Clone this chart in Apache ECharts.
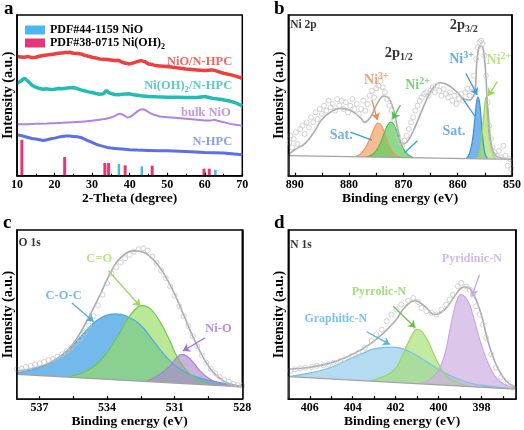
<!DOCTYPE html>
<html><head><meta charset="utf-8">
<script src="https://cdn.jsdelivr.net/npm/echarts@6/dist/echarts.min.js"></script>
<style>html,body{margin:0;padding:0;background:#fff}#c{width:524px;height:430px}</style>
</head><body><div id="c"></div><script>
const FONT = 'Liberation Serif';

// ---------- Panel a: XRD ----------
const xrdNiONHPC = [[10,358],[11,357],[12,356],[13,358],[14,355],[15,356],[16,359],[17,361],[18,363],[19,364],[20,366],[21,368],[22,369],[23,370],[24,371],[25,368],[26,367],[27,366],[28,362],[29,359],[30,356],[31,354],[32,351],[33,350],[34,349],[35,348],[36,346],[37,347],[38,341],[39,338],[40,336],[41,339],[42,343],[43,346],[44,343],[45,336],[46,334],[47,331],[48,330],[50,328],[52,325],[55,321],[58,318],[60,316],[62,318],[63,315],[65,308],[67,303],[68,300],[70,293]];
const xrdNiOH2NHPC = [[10,278],[10.5,282],[11,284],[11.5,290],[12,293],[12.5,289],[13,283],[14,272],[15,266],[16,262],[17,260],[18,261],[19,259],[20,260],[21,262],[22,261],[23,263],[24,264],[25,265],[26,262],[27,258],[28,255],[29,252],[30,250],[31,247],[32,245],[33,246],[33.8,256],[34.5,249],[35,245],[36,244],[37,243],[38,245],[40,246],[41,243],[43,240],[45,238],[47,237],[50,236],[53,236],[55,235],[58,235],[60,238],[62,233],[64,230],[66,226],[68,220],[70,210]];
const xrdBulkNiO = [[10,155],[12,155],[15,156],[18,157],[20,158],[22,159],[25,161],[28,163],[30,165],[32,168],[33,170],[34,172],[35,175],[36,179],[36.5,183],[37.5,186],[38.5,181],[39.5,175],[40.5,179],[41.5,188],[42.5,196],[43.5,200],[44.5,195],[45.5,188],[46.5,183],[48,178],[50,176],[52,174],[55,171],[58,168],[60,166],[61.5,166],[62.5,168],[63.5,165],[65,161],[67,155],[69,152],[70,150]];
const xrdNHPC = [[10,123],[11,121],[12,118],[13,115],[14,112],[15,110],[16,108],[17,106],[18,108],[19,111],[20,113],[21,116],[22,118],[23,119],[24,119],[25,118],[26,117],[27,115],[28,110],[29,105],[30,100],[31,95],[32,91],[33,88],[34,85],[35,83],[36,82],[38,80],[40,78],[42,77],[45,76],[48,75],[50,75],[55,73],[60,70],[65,68],[70,63]];
const pdfNiO = [[37.2,35],[43.3,28],[62.9,18]];
const pdfNiOH2 = [[11.3,108],[22.7,56],[33.4,38],[34.4,38],[38.8,31],[46.0,30],[59.8,21],[61.2,21]];

// ---------- Panel b: Ni 2p ----------
const niBaseline = [[891.2,60],[850,49]];
const niEnvelope = [[891.2,62],[890,78],[888.1,97],[886.5,130],[885.1,167],[883.3,192],[881.5,202],[879.6,195],[877.8,172],[877.2,160],[876.0,177],[874.8,217],[873.6,239],[872.7,232],[871.8,197],[870.9,130],[870.2,95],[869.3,102],[868.1,137],[866.3,207],[864.8,257],[863.3,279],[861.8,272],[860.2,252],[858.7,229],[857.7,227],[857.2,236],[856.8,250],[856.5,337],[856.2,377],[855.9,389],[855.5,388],[855.2,370],[854.8,297],[854.4,167],[853.9,97],[853.0,60],[851.8,52],[850,49]];
const niCircles = [[891.0,100],[890.8,120],[890.5,85],[890.2,110],[889.8,130],[889.5,95],[889.0,140],[888.6,150],[888.2,125],[887.8,160],[887.4,145],[887.0,175],[886.6,160],[886.2,190],[885.8,170],[885.4,200],[885.0,185],[884.6,210],[884.2,195],[883.8,225],[883.4,205],[883.0,215],[882.6,195],[882.2,230],[881.8,210],[881.4,225],[881.0,200],[880.6,220],[880.2,190],[879.8,210],[879.4,230],[879.0,200],[878.6,215],[878.2,185],[877.8,200],[877.4,225],[877.0,195],[876.6,215],[876.2,240],[875.8,255],[875.4,235],[875.0,262],[874.6,270],[874.2,285],[873.8,265],[873.4,250],[873.0,230],[872.6,210],[872.2,195],[871.8,170],[871.4,140],[871.0,120],[870.6,100],[870.2,90],[869.8,105],[869.4,120],[869.0,140],[868.6,160],[868.2,175],[867.8,195],[867.4,210],[867.0,225],[866.6,235],[866.2,245],[865.8,250],[865.4,240],[865.0,255],[864.6,265],[864.2,250],[863.8,270],[863.4,255],[863.0,240],[862.6,260],[862.2,245],[861.8,235],[861.4,250],[861.0,225],[860.6,240],[860.2,215],[859.8,230],[859.4,245],[859.0,225],[858.6,250],[858.2,260],[857.8,240],[857.4,265],[857.0,300],[856.6,350],[856.3,385],[856.0,400],[855.7,405],[855.4,395],[855.1,360],[854.8,300],[854.5,220],[854.2,150],[853.9,110],[853.6,85],[853.2,70],[852.8,60],[852.4,75],[852.0,55],[851.6,90],[851.2,60],[850.8,30],[850.4,50],[850.1,20]];
const niNi3p12 = [[879.0,56],[878.0,64],[877.0,84],[876.0,117],[875.3,145],[874.7,158],[874.0,150],[873.3,120],[872.5,86],[871.5,63],[870.5,56]];
const niNi2p12 = [[876.8,56],[875.5,66],[874.5,88],[873.6,125],[872.9,152],[872.3,161],[871.7,152],[871.0,122],[870.2,88],[869.3,65],[868.3,55]];
const niNi3p32 = [[858.4,51],[857.8,68],[857.3,105],[856.9,160],[856.6,210],[856.3,236],[856.0,222],[855.7,175],[855.4,115],[855.0,68],[854.5,51]];
const niNi2p32 = [[856.4,51],[856.0,65],[855.6,110],[855.3,165],[855.0,215],[854.8,235],[854.5,215],[854.2,160],[853.9,105],[853.5,65],[853.0,50]];
const niTicks = [850,855,860,865,870,875,880,885,890];
const niTickLabels = [850,860,870,880,890];

// ---------- Panel c: O 1s ----------
const oBaseline = [[538,75],[528,37]];
const oEnvelope = [[538,85],[537.26,93],[536.52,110],[535.78,145],[535.19,200],[534.75,255],[534.31,315],[533.86,380],[533.42,425],[532.83,447],[532.39,443],[531.94,420],[531.5,380],[531.06,325],[530.61,255],[530.17,185],[529.73,125],[529.28,80],[528.84,55],[528.4,43],[528,37]];
const oCOC = [[538,80],[537.26,90],[536.52,110],[535.78,145],[535.05,197],[534.46,237],[533.64,257],[533.13,250],[532.54,225],[531.94,175],[531.35,125],[530.76,90],[530.17,70],[529.58,58],[528.99,50],[528.4,43],[528,38]];
const oCO = [[535.78,67],[535.05,80],[534.31,115],[533.57,185],[533.13,237],[532.83,265],[532.46,282],[532.09,273],[531.65,233],[531.21,175],[530.91,130],[530.47,85],[530.02,60],[529.58,48],[529.14,42]];
const oNiO = [[532.24,54],[531.65,75],[531.21,100],[530.91,125],[530.69,135],[530.47,130],[530.17,110],[529.88,85],[529.43,60],[528.99,47],[528.4,40],[528,37]];
const oCircles = [[538.0,90],[537.8,92],[537.6,97],[537.4,100],[537.2,104],[537.0,108],[536.8,112],[536.6,118],[536.4,121],[536.2,128],[536.0,135],[535.8,145],[535.6,155],[535.4,170],[535.2,182],[535.0,200],[534.8,222],[534.6,250],[534.4,282],[534.2,315],[534.0,350],[533.8,378],[533.6,398],[533.4,412],[533.2,425],[533.0,435],[532.8,445],[532.6,452],[532.4,455],[532.2,448],[532.0,430],[531.8,410],[531.6,388],[531.4,365],[531.2,340],[531.0,312],[530.8,280],[530.6,250],[530.4,220],[530.2,190],[530.0,160],[529.8,132],[529.6,110],[529.4,92],[529.2,78],[529.0,66],[528.8,58],[528.6,52],[528.4,46],[528.2,42],[528.0,40]];
const oTicks = [529.5,531,532.5,534,535.5,537];
const oTickLabels = [528,531,534,537];

// ---------- Panel d: N 1s ----------
const nBaseline = [[407,68],[396.4,30]];
const nEnvelope = [[407,90],[405.9,97],[405.13,107],[404.35,125],[403.58,150],[402.81,185],[402.03,235],[401.57,277],[401.11,297],[400.64,280],[400.18,255],[399.71,270],[399.25,310],[398.94,335],[398.71,338],[398.4,320],[398.01,255],[397.7,175],[397.39,115],[397.08,75],[396.78,50],[396.4,35]];
const nGraphitic = [[407,68],[405.9,80],[405.13,93],[404.35,115],[403.58,137],[402.96,152],[402.27,157],[401.73,153],[401.11,135],[400.49,110],[399.87,85],[399.25,65],[398.63,50],[398.01,42],[397.39,37],[396.4,30]];
const nPyrrolic = [[403.12,55],[402.5,70],[402.03,90],[401.73,125],[401.42,170],[401.18,200],[401.03,210],[400.8,205],[400.49,175],[400.18,130],[399.87,90],[399.56,65],[399.1,50],[398.63,40]];
const nPyridinic = [[400.95,47],[400.49,55],[400.02,85],[399.71,135],[399.48,205],[399.25,275],[399.1,305],[398.97,315],[398.79,310],[398.55,285],[398.32,235],[398.01,165],[397.7,110],[397.39,70],[397.08,50],[396.78,40],[396.4,32]];
const nCircles = [[406.91,85],[406.68,90],[406.44,93],[406.21,95],[405.9,97],[405.67,100],[405.36,102],[405.13,105],[404.9,110],[404.59,115],[404.36,120],[404.05,130],[403.74,140],[403.43,155],[403.12,175],[402.89,195],[402.65,210],[402.42,235],[402.19,255],[401.96,270],[401.73,285],[401.42,297],[401.18,305],[400.95,293],[400.8,275],[400.57,265],[400.33,260],[400.1,255],[399.87,270],[399.64,285],[399.48,300],[399.33,315],[399.1,340],[398.94,350],[398.71,340],[398.55,330],[398.4,315],[398.25,280],[398.09,255],[397.94,225],[397.78,185],[397.55,135],[397.32,95],[397.09,65],[396.78,50],[396.54,35]];
const nTicks = [397,398,399,400,401,402,403,404,405,406];
const nTickLabels = [398,400,402,404,406];

// ---------- helpers ----------
function rich(size){
  const s = Math.round(size*0.68);
  return {
    t:{fontFamily:FONT,fontWeight:'bold',fontSize:size,lineHeight:size+4},
    p:{fontFamily:FONT,fontWeight:'bold',fontSize:s,lineHeight:s,verticalAlign:'top'},
    s:{fontFamily:FONT,fontWeight:'bold',fontSize:s,lineHeight:s,verticalAlign:'bottom'}
  };
}
function lab(x,y,text,color,size,align){
  return {value:[x,y], label:{formatter:text, color:color, align:align||'center', verticalAlign:'middle', rich:rich(size)}};
}
function arrow(a,b,color){
  const ls = {color:color,width:1.3,type:'solid'};
  return [{coord:a, lineStyle:ls},{coord:b, lineStyle:ls}];
}
const axisText = {fontFamily:FONT,fontWeight:'bold',fontSize:12,color:'#000'};
const nameText = {fontFamily:FONT,fontWeight:'bold',fontSize:13.5,color:'#000'};

function xAxisFor(g,min,max,inverse,ticks,labels,name){
  const ax = {gridIndex:g,type:'value',min:min,max:max,inverse:inverse,z:10,
    axisLine:{show:true,lineStyle:{color:'#000',width:1.5}},
    axisTick:{show:true,inside:true,length:3,lineStyle:{color:'#000',width:1.2}},
    axisLabel:Object.assign({margin:3},axisText),
    splitLine:{show:false},
    name:name,nameLocation:'middle',nameGap:15,nameTextStyle:nameText};
  if (ticks){ ax.axisTick.customValues = ticks; ax.axisLabel.customValues = labels; }
  return ax;
}
function yAxisFor(g,max,gap){
  return {gridIndex:g,type:'value',min:0,max:max,z:10,
    axisLine:{show:true,onZero:false,lineStyle:{color:'#000',width:1.5}},
    axisTick:{show:false},axisLabel:{show:false},splitLine:{show:false},
    name:'Intensity (a.u.)',nameLocation:'middle',nameGap:gap,
    nameTextStyle:Object.assign({},nameText,{fontSize:14})};
}
function yRight(g){
  return {gridIndex:g,type:'value',position:'right',min:0,max:1,z:10,
    axisLine:{show:true,onZero:false,lineStyle:{color:'#000',width:1.5}},
    axisTick:{show:false},axisLabel:{show:false},splitLine:{show:false}};
}
function peak(g,data,line,fill){
  return {type:'line',xAxisIndex:g,yAxisIndex:g,data:data,smooth:0.4,symbol:'none',
    lineStyle:{color:line,width:1.2},areaStyle:{color:fill,opacity:1},z:2,silent:true};
}
function cover(g,data){
  return {type:'line',xAxisIndex:g,yAxisIndex:g,data:data,symbol:'none',
    lineStyle:{color:'#a3a3a3',width:1.3},areaStyle:{color:'#ffffff',opacity:1},z:3,silent:true};
}
function envelope(g,data,segs){
  const s = {type:'line',xAxisIndex:g,yAxisIndex:g,data:data,smooth:0.4,symbol:'none',
    lineStyle:{color:'#ababab',width:1.6},z:4,silent:true};
  if (segs) s.markLine = {silent:true,animation:false,symbol:'none',label:{show:false},
    lineStyle:{type:'solid'},data:segs};
  return s;
}
function circles(g,data){
  return {type:'scatter',xAxisIndex:g,yAxisIndex:g,data:data,symbol:'circle',symbolSize:5,
    itemStyle:{color:'rgba(0,0,0,0)',borderColor:'#c8c8c8',borderWidth:1},z:4,silent:true};
}
function labels(g,items,arrows){
  const s = {type:'scatter',xAxisIndex:g,yAxisIndex:g,data:items,symbolSize:1,
    itemStyle:{color:'rgba(0,0,0,0)'},label:{show:true,position:'inside'},z:6,silent:true};
  if (arrows) s.markLine = {silent:true,animation:false,symbol:['none','arrow'],symbolSize:7,
    label:{show:false},lineStyle:{type:'solid'},data:arrows};
  return s;
}

const chart = echarts.init(document.getElementById('c'),null,{renderer:'canvas'});
const gridStyle = {show:true,borderColor:'#000',borderWidth:1.5,backgroundColor:'#fff'};
chart.setOption({
  animation:false,
  backgroundColor:'#fff',
  grid:[
    Object.assign({left:16.7,top:15,width:225.6,height:160.7},gridStyle),
    Object.assign({left:288.3,top:15,width:227,height:160.7},gridStyle),
    Object.assign({left:16.7,top:230,width:225.6,height:170},gridStyle),
    Object.assign({left:288.3,top:230,width:227.5,height:170},gridStyle)
  ],
  legend:{left:20,top:19,orient:'vertical',icon:'rect',itemWidth:20,itemHeight:9,itemGap:1,
    data:['PDF#44-1159 NiO','PDF#38-0715 Ni(OH)2'],
    formatter:function(n){return n.indexOf('(OH)')>=0?'{t|PDF#38-0715 Ni(OH)}{s|2}':'{t|'+n+'}';},
    textStyle:{color:'#000',rich:rich(12)}},
  graphic:[
    {type:'text',left:4,top:0,style:{text:'a',font:'bold 19px "Liberation Serif"',fill:'#000'}},
    {type:'text',left:274,top:0,style:{text:'b',font:'bold 19px "Liberation Serif"',fill:'#000'}},
    {type:'text',left:3,top:214,style:{text:'c',font:'bold 19px "Liberation Serif"',fill:'#000'}},
    {type:'text',left:274,top:214,style:{text:'d',font:'bold 19px "Liberation Serif"',fill:'#000'}}
  ],
  xAxis:[
    Object.assign(xAxisFor(0,10,70,false,null,null,'2-Theta (degree)'),{interval:10,minorTick:{show:true,splitNumber:2,length:2,lineStyle:{color:'#000'}}}),
    xAxisFor(1,850,891.2,true,niTicks,niTickLabels,'Binding energy (eV)'),
    xAxisFor(2,528,538,true,oTicks,oTickLabels,'Binding energy (eV)'),
    xAxisFor(3,396.4,407,true,nTicks,nTickLabels,'Binding energy (eV)')
  ],
  yAxis:[
    yAxisFor(0,483,2), yAxisFor(1,482,2), yAxisFor(2,510,2), yAxisFor(3,510,2),
    yRight(1), yRight(2), yRight(3)
  ],
  series:[
    // a
    {type:'bar',name:'PDF#44-1159 NiO',xAxisIndex:0,yAxisIndex:0,data:pdfNiO,barWidth:2.5,barGap:'-100%',itemStyle:{color:'#4DB6F0'},z:2},
    {type:'bar',name:'PDF#38-0715 Ni(OH)2',xAxisIndex:0,yAxisIndex:0,data:pdfNiOH2,barWidth:3,barGap:'-100%',itemStyle:{color:'#E8357A'},z:2},
    {type:'line',xAxisIndex:0,yAxisIndex:0,data:xrdNiONHPC,symbol:'none',lineStyle:{color:'#EF3E3E',width:3.5},z:3},
    {type:'line',xAxisIndex:0,yAxisIndex:0,data:xrdNiOH2NHPC,symbol:'none',lineStyle:{color:'#22BDB2',width:3.5},z:3},
    {type:'line',xAxisIndex:0,yAxisIndex:0,data:xrdBulkNiO,symbol:'none',smooth:0.3,lineStyle:{color:'#B77FEA',width:2},z:3},
    {type:'line',xAxisIndex:0,yAxisIndex:0,data:xrdNHPC,symbol:'none',lineStyle:{color:'#5E6EE6',width:3},z:3},
    labels(0,[
      lab(67.3,343,'{t|NiO/N-HPC}','#F03C3C',12.5,'right'),
      lab(67.3,270,'{t|Ni(OH)}{s|2}{t|/N-HPC}','#2CC0B8',12.5,'right'),
      lab(66.9,188,'{t|bulk NiO}','#B37EE6',12.5,'right'),
      lab(67.3,103,'{t|N-HPC}','#6E82E8',12.5,'right')
    ]),
    // b
    peak(1,niNi3p12,'#F5955A','rgba(246,165,110,0.75)'),
    peak(1,niNi2p12,'#45C345','rgba(95,205,95,0.72)'),
    peak(1,niNi3p32,'#3A8FDC','rgba(75,155,225,0.75)'),
    peak(1,niNi2p32,'#9AD84A','rgba(170,225,105,0.7)'),
    cover(1,niBaseline),
    circles(1,niCircles),
    envelope(1,niEnvelope,[
      arrow([879.76,131],[875.8,107],'#3D9BE0'),
      arrow([859.1,232],[856.85,179],'#3D9BE0'),
      arrow([869.8,69],[867.4,105],'#3D9BE0')
    ]),
    labels(1,[
      lab(890.85,452,'{t|Ni 2p}','#000',11.5,'left'),
      lab(858.9,452,'{t|2p}{s|3/2}','#000',14.5),
      lab(870.85,367,'{t|2p}{s|1/2}','#000',14.5),
      lab(874.97,287,'{t|Ni}{p|3+}','#F08A50',14),
      lab(867.4,272,'{t|Ni}{p|2+}','#55C955',14),
      lab(859.3,349,'{t|Ni}{p|3+}','#3D9BE0',14),
      lab(852.4,345,'{t|Ni}{p|2+}','#A6DD5C',14),
      lab(881.45,122,'{t|Sat.}','#4A9FE0',14),
      lab(860.7,132,'{t|Sat.}','#4A9FE0',14)
    ],[
      arrow([875.8,227],[874.8,167],'#F08A50'),
      arrow([870.55,212],[872.0,169],'#45C345'),
      arrow([858.5,307],[856.4,242],'#3D9BE0'),
      arrow([852.7,282],[854.4,239],'#9AD84A')
    ]),
    // c
    peak(2,oCOC,'#4AA8E8','rgba(75,165,230,0.78)'),
    peak(2,oCO,'#6CCB4C','rgba(150,220,95,0.65)'),
    peak(2,oNiO,'#A880D0','rgba(175,135,210,0.65)'),
    cover(2,oBaseline),
    circles(2,oCircles),
    envelope(2,oEnvelope),
    labels(2,[
      lab(537.93,470,'{t|O 1s}','#000',11.5,'left'),
      lab(535.93,313,'{t|C-O-C}','#4AAEE8',12.5),
      lab(534.35,423,'{t|C=O}','#A8E060',12.5),
      lab(529.06,213,'{t|Ni-O}','#A070E0',12.5)
    ],[
      arrow([535.56,290],[534.6,233],'#4AAEE8'),
      arrow([533.94,387],[532.53,280],'#9AD860'),
      arrow([529.65,185],[530.64,145],'#A070E0')
    ]),
    // d
    peak(3,nGraphitic,'#7AC0E8','rgba(140,200,235,0.65)'),
    peak(3,nPyrrolic,'#98D860','rgba(165,222,110,0.65)'),
    peak(3,nPyridinic,'#C8A8E0','rgba(205,175,225,0.7)'),
    cover(3,nBaseline),
    circles(3,nCircles),
    envelope(3,nEnvelope),
    labels(3,[
      lab(406.91,465,'{t|N 1s}','#000',11.5,'left'),
      lab(404.79,243,'{t|Graphitic-N}','#5AB4E8',12),
      lab(402.78,323,'{t|Pyrrolic-N}','#8ED45A',12),
      lab(398.45,423,'{t|Pyridinic-N}','#C9A8E0',12)
    ],[
      arrow([403.35,203],[402.27,165],'#5AB4E8'),
      arrow([402.11,280],[401.08,215],'#6CC04A'),
      arrow([398.09,375],[398.45,310],'#C9A8E0')
    ])
  ]
});
</script></body></html>
